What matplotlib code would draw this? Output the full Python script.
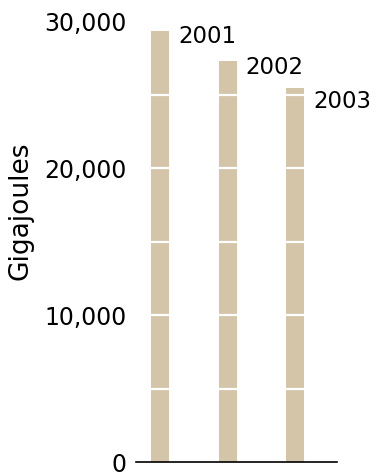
import matplotlib
matplotlib.use('Agg')
import matplotlib.pyplot as plt
from matplotlib.ticker import FuncFormatter

# data
years = ['2001', '2002', '2003']
gigajoules = [29400, 27300, 25500]
label_drop = [12, 13, 20]  # px from bar top down to the year label baseline
y_ticks = [0, 10000, 20000, 30000]
grid_lines = [5000, 10000, 15000, 20000, 25000]

bar_color = '#d4c5a9'
plt.rcParams['font.family'] = ['DejaVu Sans']

fig = plt.figure(figsize=(3.8, 4.72), dpi=100)
ax = fig.add_axes([136 / 380, 10 / 472, 201 / 380, 440.3 / 472])

x = list(range(len(years)))
ax.bar(x, gigajoules, width=0.267, color=bar_color, zorder=1)

# white breaks across the bars
for g in grid_lines:
    ax.axhline(g, color='white', lw=1.6, zorder=2)

# year labels beside the bar tops
for xi, v, yr, d in zip(x, gigajoules, years, label_drop):
    ax.annotate(yr, xy=(xi + 0.133, v), xytext=(9, -d), textcoords='offset pixels',
                ha='left', va='baseline', fontsize=16.5, color='black')

ax.set_xlim(-0.356, 2.62)
ax.set_ylim(0, 30000)
ax.set_yticks(y_ticks)
ax.yaxis.set_major_formatter(FuncFormatter(lambda v, p: f'{int(v):,}'))
ax.tick_params(axis='y', length=0, pad=6.5, labelsize=17, colors='black')
ax.set_xticks([])

for s in ['top', 'right', 'left']:
    ax.spines[s].set_visible(False)
ax.spines['bottom'].set_linewidth(1.2)
ax.spines['bottom'].set_color('black')

ax.set_ylabel('Gigajoules', fontsize=19, color='black')
ax.yaxis.set_label_coords(-0.512, 0.57)

fig.savefig('out.png', dpi=100)
